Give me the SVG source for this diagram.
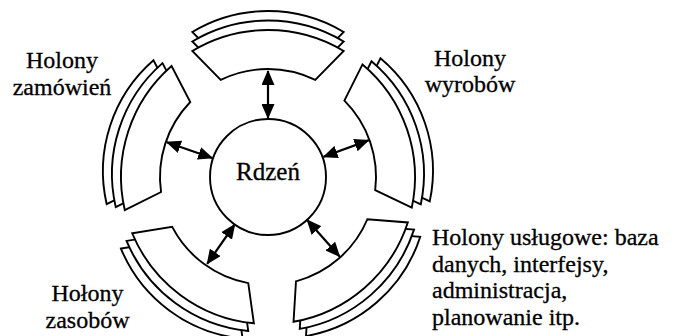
<svg xmlns="http://www.w3.org/2000/svg" xmlns:xlink="http://www.w3.org/1999/xlink" width="674" height="336" viewBox="0 0 674 336">
<style>
.sec{fill:#fff;stroke:#000;stroke-width:1.9;stroke-linejoin:miter}
.core{fill:#fff;stroke:#000;stroke-width:1.9}
text{font-family:'Liberation Serif','Times New Roman',serif;font-size:24px;fill:#000;stroke:#000;stroke-width:0.3}
.mid{text-anchor:middle}
.arr{stroke:#000;stroke-width:2.2;fill:none;marker-start:url(#ah);marker-end:url(#ah)}
</style>
<defs>
<marker id="ah" viewBox="0 0 15 13" refX="14" refY="6.5" markerWidth="15" markerHeight="13" markerUnits="userSpaceOnUse" orient="auto-start-reverse">
<path d="M0,0 L15,6.5 L0,13 Z" fill="#000"/>
</marker>
<path id="sec" class="sec" d="M192.3,51 A147,147 0 0 1 343.7,51 L315.3,79.9 A108,108 0 0 0 220.7,79.9 Z"/>
</defs>
<rect width="674" height="336" fill="#fff"/>

<g id="holony-top">
<use xlink:href="#sec" href="#sec" transform="translate(0,-19)"/>
<use xlink:href="#sec" href="#sec" transform="translate(0,-9.5)"/>
<use xlink:href="#sec" href="#sec"/>
</g>

<g id="holony-wyrobow">
<g transform="rotate(71 268 177)">
<use xlink:href="#sec" href="#sec" transform="translate(0,-19)"/>
<use xlink:href="#sec" href="#sec" transform="translate(0,-9.5)"/>
<use xlink:href="#sec" href="#sec"/>
</g>
<text class="mid" x="470" y="66">Holony</text>
<text class="mid" x="470" y="92">wyrobów</text>
</g>

<g id="holony-zamowien">
<g transform="rotate(-72 268 177)">
<use xlink:href="#sec" href="#sec" transform="translate(0,-19)"/>
<use xlink:href="#sec" href="#sec" transform="translate(0,-9.5)"/>
<use xlink:href="#sec" href="#sec"/>
</g>
<text class="mid" x="62" y="68">Holony</text>
<text class="mid" x="62" y="95">zamówień</text>
</g>

<g id="holony-zasobow">
<g transform="rotate(-143.5 268 177)">
<use xlink:href="#sec" href="#sec" transform="translate(0,-19)"/>
<use xlink:href="#sec" href="#sec" transform="translate(0,-9.5)"/>
<use xlink:href="#sec" href="#sec"/>
</g>
<text class="mid" x="87.5" y="301">Hołony</text>
<text class="mid" x="87.5" y="328">zasobów</text>
</g>

<g id="holony-uslugowe">
<g transform="rotate(139 268 177)">
<use xlink:href="#sec" href="#sec" transform="translate(0,-19)"/>
<use xlink:href="#sec" href="#sec" transform="translate(0,-9.5)"/>
<use xlink:href="#sec" href="#sec"/>
</g>
<text x="432" y="245">Holony usługowe: baza</text>
<text x="432" y="272">danych, interfejsy,</text>
<text x="432" y="298">administracja,</text>
<text x="432" y="325">planowanie itp.</text>
</g>

<g id="rdzen">
<circle class="core" cx="268" cy="177" r="58"/>
<text class="mid" x="268" y="180" style="font-size:25px">Rdzeń</text>
</g>

<g id="connectors">
<path class="arr" d="M268,118 L268,71"/>
<path class="arr" d="M323.5,156.8 L368.5,140.4"/>
<path class="arr" d="M212.2,158 L166.8,142.2"/>
<path class="arr" d="M234.7,224.5 L207.2,263.8"/>
<path class="arr" d="M307.2,220.1 L339.6,256.5"/>
</g>
</svg>
